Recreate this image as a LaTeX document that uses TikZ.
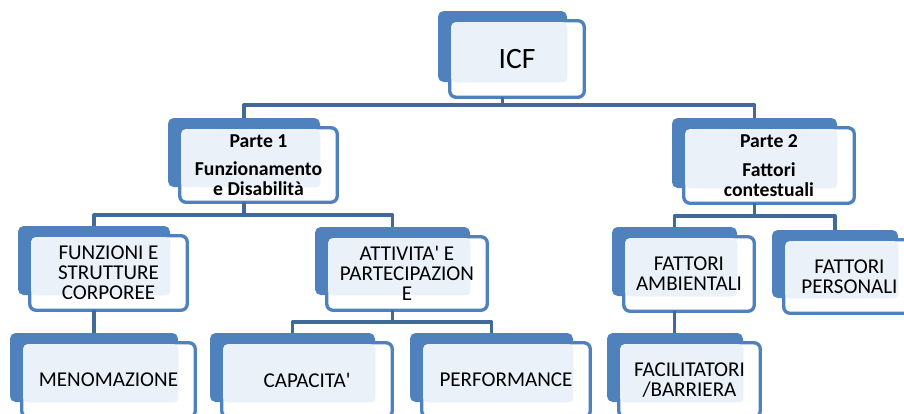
\documentclass[tikz,border=0pt]{standalone}
\usepackage{fontspec}
\setmainfont{Carlito}
\usetikzlibrary{fit}
\definecolor{boxblue}{HTML}{4F81BD}
\definecolor{linkblue}{HTML}{41699A}
\definecolor{paleblue}{HTML}{EAF1F9}

% box of the chart: [text style] name, x0, y0, x1, y1, text
\newcommand{\icfbox}[7][]{%
  \node[backbox, fit={(#3,#4) (#5,#6)}] (#2) {};
  \draw[frontbox] ([shift={(12,10)}]#2.north west) rectangle ([shift={(17,15)}]#2.south east);
  \fill[paleblue, rounded corners=3pt] ([shift={(13.5,11.5)}]#2.north west) rectangle (#2.south east);
  \node[boxtext, #1] (#2-t) at ([shift={(14.5,12.5)}]#2.center) {#7};
}

\begin{document}
\begin{tikzpicture}[x=0.025cm, y=-0.025cm, line join=round,
  backbox/.style={inner sep=0pt, fill=boxblue, rounded corners=4pt},
  frontbox/.style={draw=boxblue, line width=2.4pt, fill=white, rounded corners=4.5pt},
  boxtext/.style={align=center, inner sep=0pt, font=\fontsize{15}{14.2}\selectfont},
  parttext/.style={font=\fontsize{14}{14.2}\selectfont\bfseries},
  link/.style={draw=linkblue, line width=2.4pt}]
\useasboundingbox (0,0) rectangle (904,414);
\clip (0,0) rectangle (904,414);
% Livello 1
\icfbox[font=\fontsize{21}{25}\selectfont]{icf}{438}{11}{567}{82}{ICF}
% Livello 2
\icfbox[parttext]{p1}{168}{118}{320}{187}{Parte 1\\[6pt]Funzionamento\\e Disabilità}
\icfbox[parttext]{p2}{672}{118}{837}{188}{Parte 2\\[6pt]Fattori\\contestuali}
% Livello 3
\icfbox{fs}{18}{226}{170}{295}{FUNZIONI E\\STRUTTURE\\CORPOREE}
\icfbox{ap}{315}{227}{470}{295}{ATTIVITA\textquotesingle{} E\\PARTECIPAZION\\E}
\icfbox{fa}{612}{227}{737}{296}{FATTORI\\AMBIENTALI}
\icfbox{fp}{772}{230}{898}{298}{FATTORI\\PERSONALI}
% Livello 4
\icfbox{men}{10}{333}{178}{402}{MENOMAZIONE}
\icfbox{cap}{210}{333}{375}{402}{CAPACITA\textquotesingle}
\icfbox{perf}{410}{333}{573}{402}{PERFORMANCE}
\icfbox{fb}{607}{333}{743}{402}{FACILITATORI\\/BARRIERA}
% Linee di collegamento
\coordinate (bus1) at (0,105);
\coordinate (bus2) at (0,215);
\coordinate (bus3) at (0,216);
\coordinate (bus4) at (0,322);
\draw[link] ([shift={(0,15)}]icf.south) -- (icf.south |- bus1);
\draw[link] (p1.north) |- (icf.south |- bus1) -| (p2.north);
\draw[link] ([shift={(0,15)}]p1.south) -- (p1.south |- bus2);
\draw[link] (fs.north) |- (p1.south |- bus2) -| (ap.north);
\draw[link] ([shift={(0,15)}]p2.south) -- (p2.south |- bus3);
\draw[link] (fa.north) |- (p2.south |- bus3) -| (fp.north);
\draw[link] ([shift={(0,15)}]ap.south) -- (ap.south |- bus4);
\draw[link] (cap.north) |- (ap.south |- bus4) -| (perf.north);
\draw[link] ([shift={(0,15)}]fs.south) -- (fs.south |- men.north);
\draw[link] ([shift={(0,15)}]fa.south) -- (fa.south |- fb.north);
\end{tikzpicture}
\end{document}
